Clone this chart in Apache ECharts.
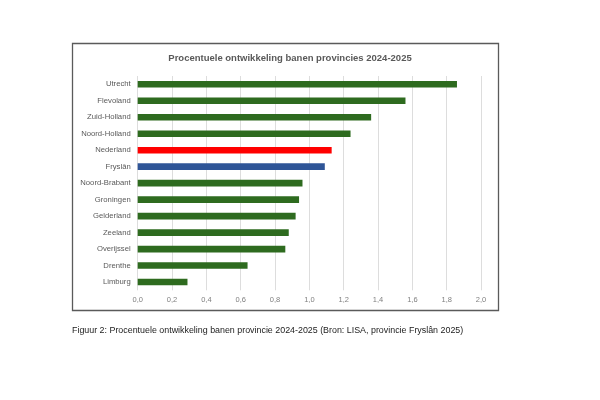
<!DOCTYPE html>
<html><head><meta charset="utf-8">
<script src="https://cdn.jsdelivr.net/npm/echarts@6/dist/echarts.min.js"></script>
<style>html,body{margin:0;padding:0;background:#fff}#c{width:600px;height:400px}</style>
</head><body><div id="c"></div>
<script>
const categories = ['Utrecht','Flevoland','Zuid-Holland','Noord-Holland','Nederland','Fryslân','Noord-Brabant','Groningen','Gelderland','Zeeland','Overijssel','Drenthe','Limburg'];
const values = [1.86,1.56,1.36,1.24,1.13,1.09,0.96,0.94,0.92,0.88,0.86,0.64,0.29];
const xTicks = ['0,0','0,2','0,4','0,6','0,8','1,0','1,2','1,4','1,6','1,8','2,0'];
const titleText = 'Procentuele ontwikkeling banen provincies 2024-2025';
const captionText = 'Figuur 2: Procentuele ontwikkeling banen provincie 2024-2025 (Bron: LISA, provincie Fryslân 2025)';
const colorFor = c => c === 'Nederland' ? '#FF0000' : (c === 'Fryslân' ? '#2F5597' : '#2E6B1F');

const chart = echarts.init(document.getElementById('c'), null, {renderer:'canvas'});
chart.setOption({
  backgroundColor:'#fff',
  animation:false,
  textStyle:{fontFamily:'Liberation Sans, Arial, sans-serif'},
  title:{text:titleText,left:285,top:48,textAlign:'center',
    textStyle:{fontSize:9.5,fontWeight:'bold',color:'#595959',fontFamily:'Liberation Sans, Arial, sans-serif'}},
  graphic:[
    {type:'rect',shape:{x:72.5,y:43.5,width:426,height:267},style:{fill:'none',stroke:'#5a5a5a',lineWidth:1.3},z:-1},
    {type:'text',left:72,top:326,style:{text:captionText,fontSize:8.9,fill:'#222',fontFamily:'Liberation Sans, Arial, sans-serif'}}
  ],
  grid:{left:137.7,right:600-481,top:76,bottom:400-290.3,containLabel:false},
  xAxis:{type:'value',min:0,max:2,interval:0.2,
    axisLine:{show:false},axisTick:{show:false},
    splitLine:{lineStyle:{color:'#dddddd',width:1}},
    axisLabel:{color:'#7f7f7f',fontSize:7.5,margin:6,formatter:(v)=>xTicks[Math.round(v/0.2)]}},
  yAxis:{type:'category',inverse:true,data:categories,
    axisLine:{show:false},axisTick:{show:false},
    axisLabel:{color:'#595959',fontSize:7.7,margin:7}},
  series:[{type:'bar',data:values.map((v,i)=>({value:v,itemStyle:{color:colorFor(categories[i])}})),
    barWidth:'40%'}]
});
</script></body></html>
